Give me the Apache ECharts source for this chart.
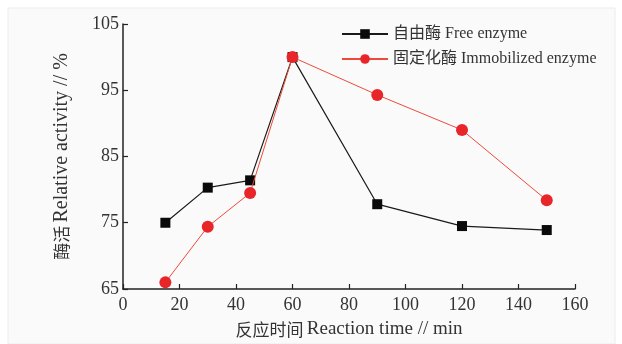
<!DOCTYPE html>
<html>
<head>
<meta charset="utf-8">
<script src="https://cdn.jsdelivr.net/npm/echarts@6/dist/echarts.min.js"></script>
<style>
  html, body { margin: 0; padding: 0; background: #ffffff; }
  #chart { width: 622px; height: 344px; }
</style>
</head>
<body>
<div id="chart"></div>
<script>
// Reaction time (min)
const times = [15, 30, 45, 60, 90, 120, 150];
// Relative activity (%)
const freeEnzyme = [75.0, 80.3, 81.4, 100.0, 77.8, 74.5, 73.9];
const immobilizedEnzyme = [66.0, 74.4, 79.5, 100.0, 94.3, 89.0, 78.4];
const seriesNames = ['自由酶 Free enzyme', '固定化酶 Immobilized enzyme'];
const xTicks = { min: 0, max: 160, interval: 20 };
const yTicks = { min: 65, max: 105, interval: 10 };

const latin = '"Liberation Serif", "Noto Sans CJK SC", serif';
const cjk = '"Noto Sans CJK SC", "Liberation Serif", sans-serif';

function pairs(xs, ys) {
  return xs.map((x, i) => [x, ys[i]]);
}

const chart = echarts.init(document.getElementById('chart'), null, { renderer: 'canvas' });

chart.setOption({
  animation: false,
  backgroundColor: '#ffffff',
  graphic: [{
    type: 'rect',
    z: -10,
    shape: { x: 8, y: 8, width: 607, height: 336 },
    style: { fill: '#fafafa', stroke: '#ececec', lineWidth: 1 }
  }],
  grid: { left: 123, right: 47, top: 24, bottom: 55 },
  legend: {
    orient: 'vertical',
    left: 336,
    top: 21,
    itemWidth: 46,
    itemHeight: 12,
    itemGap: 9,
    textStyle: { fontFamily: latin, fontSize: 16, color: '#333' },
    data: seriesNames
  },
  xAxis: {
    type: 'value',
    min: xTicks.min,
    max: xTicks.max,
    interval: xTicks.interval,
    name: '{c|反应时间} {l|Reaction time // min}',
    nameLocation: 'middle',
    nameGap: 31,
    nameTextStyle: {
      color: '#333',
      verticalAlign: 'top',
      rich: {
        c: { fontFamily: cjk, fontSize: 17, color: '#333' },
        l: { fontFamily: latin, fontSize: 19, color: '#333' }
      }
    },
    axisLine: { lineStyle: { color: '#222', width: 1.5 } },
    axisTick: { inside: true, length: 5, lineStyle: { color: '#222', width: 1.2 } },
    axisLabel: { fontFamily: latin, fontSize: 18, color: '#333', margin: 7 },
    splitLine: { show: false }
  },
  yAxis: {
    type: 'value',
    min: yTicks.min,
    max: yTicks.max,
    interval: yTicks.interval,
    name: '{c|酶活} {l|Relative activity // %}',
    nameLocation: 'middle',
    nameRotate: 90,
    nameGap: 51,
    nameTextStyle: {
      color: '#333',
      rich: {
        c: { fontFamily: cjk, fontSize: 17, color: '#333' },
        l: { fontFamily: latin, fontSize: 20, color: '#333' }
      }
    },
    axisLine: { show: true, lineStyle: { color: '#222', width: 1.5 } },
    axisTick: { show: true, inside: true, length: 5, lineStyle: { color: '#222', width: 1.2 } },
    axisLabel: { fontFamily: latin, fontSize: 18, color: '#333', margin: 4 },
    splitLine: { show: false }
  },
  series: [
    {
      name: seriesNames[0],
      type: 'line',
      data: pairs(times, freeEnzyme),
      symbol: 'rect',
      symbolSize: 10,
      itemStyle: { color: '#0a0a0a' },
      lineStyle: { color: '#1a1a1a', width: 1.2 },
      z: 2
    },
    {
      name: seriesNames[1],
      type: 'line',
      data: pairs(times, immobilizedEnzyme),
      symbol: 'circle',
      symbolSize: 12,
      itemStyle: { color: '#e8262a' },
      lineStyle: { color: '#ee4a3a', width: 1 },
      z: 3
    }
  ]
});
</script>
</body>
</html>
